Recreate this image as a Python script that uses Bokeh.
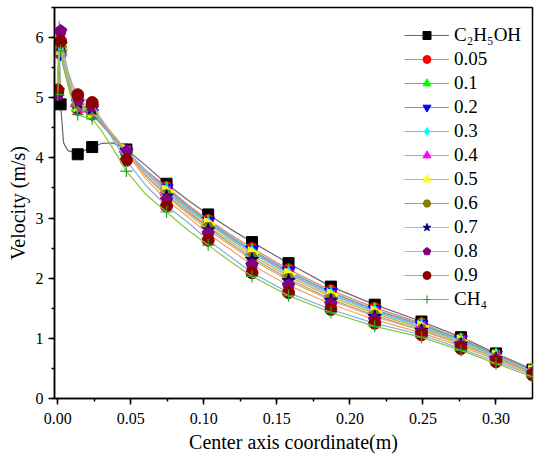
import math
from bokeh.plotting import figure
from bokeh.models import (Legend, LegendItem, SingleIntervalTicker, Range1d,
                          ColumnDataSource, NumeralTickFormatter)
from bokeh.embed import file_html
from bokeh.resources import INLINE

# ---------------- data ----------------
x_coord = [0.0, 0.001, 0.002, 0.004, 0.007, 0.010, 0.0137, 0.018, 0.0236, 0.030,
           0.038, 0.047, 0.060, 0.0745, 0.089, 0.103, 0.118, 0.133, 0.158, 0.187,
           0.217, 0.249, 0.276, 0.300, 0.325]

v_c2h5oh = [5.10, 5.88, 4.89, 4.25, 4.12, 4.10, 4.06, 4.12, 4.18, 4.24, 4.25, 4.14, 3.88,
            3.57, 3.30, 3.06, 2.82, 2.60, 2.25, 1.86, 1.56, 1.28, 1.02, 0.75, 0.48]
v_005 = [5.08, 5.65, 5.72, 5.50, 5.25, 5.00, 4.80, 4.76, 4.72, 4.55, 4.33, 4.08, 3.80,
         3.52, 3.22, 2.97, 2.73, 2.50, 2.15, 1.80, 1.51, 1.25, 0.99, 0.73, 0.47]
v_01 = [5.10, 6.28, 5.78, 5.55, 5.28, 5.03, 4.84, 4.79, 4.75, 4.56, 4.35, 4.10, 3.78,
        3.48, 3.18, 2.93, 2.68, 2.45, 2.10, 1.76, 1.47, 1.22, 0.97, 0.72, 0.46]
v_02 = [5.08, 5.70, 5.74, 5.52, 5.26, 5.02, 4.82, 4.78, 4.74, 4.56, 4.34, 4.08, 3.79,
        3.49, 3.20, 2.95, 2.70, 2.47, 2.12, 1.77, 1.48, 1.23, 0.98, 0.72, 0.46]
v_03 = [5.10, 5.75, 5.80, 5.58, 5.30, 5.06, 4.87, 4.82, 4.78, 4.60, 4.38, 4.12, 3.80,
        3.46, 3.17, 2.91, 2.66, 2.43, 2.08, 1.73, 1.45, 1.20, 0.96, 0.71, 0.45]
v_04 = [5.09, 5.74, 5.78, 5.58, 5.32, 5.07, 4.86, 4.81, 4.77, 4.60, 4.38, 4.10, 3.76,
        3.42, 3.13, 2.86, 2.62, 2.38, 2.03, 1.69, 1.41, 1.17, 0.93, 0.69, 0.44]
v_05 = [5.11, 5.78, 5.82, 5.60, 5.33, 5.08, 4.88, 4.82, 4.76, 4.60, 4.39, 4.12, 3.78,
        3.44, 3.15, 2.90, 2.65, 2.42, 2.06, 1.72, 1.44, 1.19, 0.95, 0.70, 0.45]
v_06 = [5.10, 5.80, 5.85, 5.62, 5.35, 5.10, 4.90, 4.84, 4.80, 4.60, 4.37, 4.10, 3.72,
        3.38, 3.10, 2.84, 2.58, 2.34, 1.99, 1.65, 1.38, 1.14, 0.91, 0.67, 0.43]
v_07 = [5.12, 5.82, 5.88, 5.64, 5.37, 5.12, 4.92, 4.86, 4.82, 4.62, 4.38, 4.12, 3.70,
        3.36, 3.07, 2.80, 2.55, 2.31, 1.96, 1.63, 1.36, 1.13, 0.90, 0.66, 0.42]
v_08 = [5.05, 6.00, 6.11, 5.75, 5.42, 5.16, 4.96, 4.90, 4.86, 4.64, 4.38, 4.10, 3.66,
        3.30, 3.02, 2.74, 2.48, 2.22, 1.88, 1.57, 1.31, 1.09, 0.87, 0.64, 0.41]
v_09 = [5.13, 5.90, 5.94, 5.75, 5.45, 5.22, 5.05, 4.98, 4.92, 4.62, 4.30, 3.96, 3.55,
        3.20, 2.93, 2.63, 2.36, 2.09, 1.76, 1.48, 1.25, 1.06, 0.83, 0.61, 0.39]
v_ch4 = [5.05, 5.70, 5.78, 5.50, 5.20, 4.95, 4.72, 4.68, 4.65, 4.45, 4.15, 3.78, 3.40,
         3.10, 2.80, 2.55, 2.28, 2.03, 1.71, 1.43, 1.20, 1.02, 0.80, 0.58, 0.36]

series_labels = ["C\u2082H\u2085OH", "0.05", "0.1", "0.2", "0.3", "0.4", "0.5",
                 "0.6", "0.7", "0.8", "0.9", "CH\u2084"]
series_values = [v_c2h5oh, v_005, v_01, v_02, v_03, v_04, v_05, v_06, v_07, v_08, v_09, v_ch4]

marker_idx = [0, 2, 6, 8, 11, 13, 15, 17, 18, 19, 20, 21, 22, 23, 24]
marker_idx_c2 = [2, 6, 8, 11, 13, 15, 17, 18, 19, 20, 21, 22, 23, 24]

# ---------------- styles ----------------
line_colors = ["#6a6a6a", "#f07878", "#6f9fe8", "#5cb88a", "#d08ce8", "#e8a830",
               "#50d8e0", "#b89090", "#c8b870", "#f8a060", "#80b0e8", "#88c840"]
marker_fill = ["#000000", "#ff0000", "#00ff00", "#0000ff", "#00ffff", "#ff00ff",
               "#ffff00", "#808000", "#000080", "#800080", "#8b0000", "#2ca02c"]
marker_kind = ["square", "circle", "triangle", "inverted_triangle", "diamond", "triangle",
               "triangle", "hex", "star", "pentagon", "circle", "cross"]
marker_angle = [0, 0, 0, 0, 0, math.pi / 2, -math.pi / 2, 0, 0, 0, 0, 0]
marker_size = [11, 11, 13, 13, 13, 13, 13, 12, 14, 12, 12, 12]

FONT = "Liberation Serif"

p = figure(width=534, height=455, output_backend="svg", toolbar_location=None,
           x_range=Range1d(-0.0022, 0.325), y_range=Range1d(0, 6.5),
           min_border_left=54, min_border_right=2, min_border_top=7, min_border_bottom=57)
p.background_fill_color = "white"
p.border_fill_color = "white"
p.outline_line_color = "black"
p.outline_line_width = 1.5
p.xgrid.visible = False
p.ygrid.visible = False

p.xaxis.ticker = SingleIntervalTicker(interval=0.05, num_minor_ticks=2)
p.yaxis.ticker = SingleIntervalTicker(interval=1, num_minor_ticks=2)
p.xaxis.formatter = NumeralTickFormatter(format="0.00")
p.xaxis.axis_label = "Center axis coordinate(m)"
p.yaxis.axis_label = "Velocity (m/s)"
for ax in (p.xaxis[0], p.yaxis[0]):
    ax.axis_line_color = "black"
    ax.axis_line_width = 1.5
    ax.major_tick_in = 0
    ax.major_tick_out = 6
    ax.minor_tick_in = 0
    ax.minor_tick_out = 3
    ax.major_tick_line_color = "black"
    ax.minor_tick_line_color = "black"
    ax.major_tick_line_width = 1.5
    ax.minor_tick_line_width = 1.5
    ax.major_label_text_font = FONT
    ax.major_label_text_font_size = "16px"
    ax.major_label_text_color = "black"
    ax.axis_label_text_font = FONT
    ax.axis_label_text_font_size = "20px"
    ax.axis_label_text_font_style = "normal"
    ax.axis_label_text_color = "black"
p.xaxis.major_label_standoff = 8
p.xaxis.axis_label_standoff = 4
p.yaxis.major_label_standoff = 5
p.yaxis.axis_label_standoff = 4

items = []
for i, (lab, vals) in enumerate(zip(series_labels, series_values)):
    src_line = ColumnDataSource(dict(x=x_coord, y=vals))
    idx = marker_idx_c2 if i == 0 else marker_idx
    src_m = ColumnDataSource(dict(x=[x_coord[k] for k in idx], y=[vals[k] for k in idx]))
    lr = p.line("x", "y", source=src_line, line_color=line_colors[i], line_width=1.2)
    kind = marker_kind[i]
    mr = None
    if kind == "pentagon":
        try:
            from bokeh.models import Ngon
            g = Ngon(x="x", y="y", radius=6.5, radius_units="screen", n=5,
                     fill_color=marker_fill[i], line_color=marker_fill[i])
            mr = p.add_glyph(src_m, g)
        except Exception:
            mr = None
        if mr is None:
            mr = p.scatter("x", "y", source=src_m, marker="hex", size=marker_size[i],
                           fill_color=marker_fill[i], line_color=marker_fill[i])
    elif kind == "cross":
        mr = p.scatter("x", "y", source=src_m, marker="cross", size=marker_size[i],
                       line_color=marker_fill[i], line_width=1.2)
    else:
        mr = p.scatter("x", "y", source=src_m, marker=kind, size=marker_size[i],
                       angle=marker_angle[i], fill_color=marker_fill[i],
                       line_color=marker_fill[i])
    items.append(LegendItem(label=lab, renderers=[lr, mr]))

legend = Legend(items=items, location=(345, 83), orientation="vertical")
legend.label_text_font = FONT
legend.label_text_font_size = "19px"
legend.label_text_color = "black"
legend.glyph_width = 45
legend.glyph_height = 20
legend.label_height = 20
legend.spacing = 2
legend.padding = 5
legend.margin = 0
legend.label_standoff = 5
legend.border_line_alpha = 0
legend.background_fill_alpha = 0
p.add_layout(legend, "center")

open("out.html", "w").write(file_html(p, INLINE))
